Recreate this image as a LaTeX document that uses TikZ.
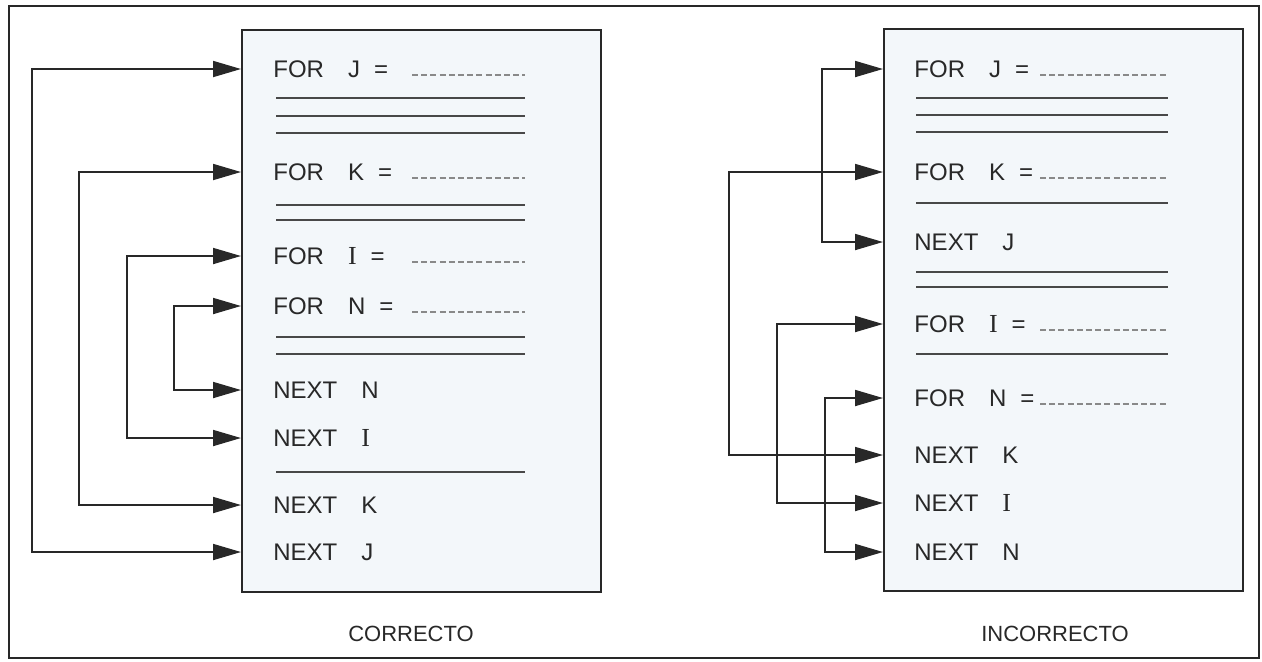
\documentclass[tikz,border=0pt]{standalone}
\usepackage{fontspec}
\setmainfont{Liberation Sans}
\newfontfamily\romI{Liberation Serif}
\usetikzlibrary{arrows.meta}
\definecolor{boxfill}{RGB}{243,247,250}
\definecolor{ink}{RGB}{40,40,40}
\newcommand{\vI}{{\romI\fontsize{13}{13}\selectfont I}}
\newcommand{\gap}{\hspace{12pt}}
\newcommand{\eqgap}{\hspace{7pt}}
\tikzset{
  codebox/.style={draw=ink, line width=1.2pt, fill=boxfill, anchor=north west,
                  inner sep=0pt, minimum width=179.5pt, minimum height=281pt},
  stmt/.style={anchor=west, inner sep=0pt, text=ink, font=\fontsize{12}{13}\selectfont},
  cline/.style={draw=ink!85, line width=0.9pt},
  blank/.style={draw=ink!55, line width=0.6pt, dash pattern=on 3pt off 1.6pt},
  lp/.style={{Triangle[length=14pt,width=8pt]}-{Triangle[length=14pt,width=8pt]},
             draw=ink, line width=0.9pt},
  verdict/.style={inner sep=0pt, text=ink, font=\fontsize{11}{13}\selectfont},
}

\begin{document}
\begin{tikzpicture}[x=0.5pt, y=-0.5pt]
  \useasboundingbox (0,0) rectangle (1262,661);
  \draw[ink, line width=1pt] (9,6) rectangle (1259,658);

  % correcto
  \node[codebox] (lbox) at (241,29) {};
  \node[stmt] (lfj) at (273,69)  {FOR\gap J\eqgap =};
  \node[stmt] (lfk) at (273,172) {FOR\gap K\eqgap =};
  \node[stmt] (lfi) at (273,256) {FOR\gap \vI\eqgap =};
  \node[stmt] (lfn) at (273,306) {FOR\gap N\eqgap =};
  \node[stmt] (lnn) at (273,390) {NEXT\gap N};
  \node[stmt] (lni) at (273,438) {NEXT\gap \vI};
  \node[stmt] (lnk) at (273,505) {NEXT\gap K};
  \node[stmt] (lnj) at (273,552) {NEXT\gap J};
  \foreach \y in {98,116,133,205,220,337,354,472}
    \draw[cline] (276,\y) -- (525,\y);
  \foreach \y in {69,172,256,306}
    \draw[blank] (412,{\y+6}) -- (525,{\y+6});
  \draw[lp] (lbox.west |- lfj) -- ++(-209,0) |- (lbox.west |- lnj);
  \draw[lp] (lbox.west |- lfk) -- ++(-162,0) |- (lbox.west |- lnk);
  \draw[lp] (lbox.west |- lfi) -- ++(-114,0) |- (lbox.west |- lni);
  \draw[lp] (lbox.west |- lfn) -- ++(-67,0)  |- (lbox.west |- lnn);
  \node[verdict] (lcap) at (411,634) {CORRECTO};

  % incorrecto
  \node[codebox] (rbox) at (883,28) {};
  \node[stmt] (rfj) at (914,69)  {FOR\gap J\eqgap =};
  \node[stmt] (rfk) at (914,172) {FOR\gap K\eqgap =};
  \node[stmt] (rnj) at (914,242) {NEXT\gap J};
  \node[stmt] (rfi) at (914,324) {FOR\gap \vI\eqgap =};
  \node[stmt] (rfn) at (914,398) {FOR\gap N\eqgap =};
  \node[stmt] (rnk) at (914,455) {NEXT\gap K};
  \node[stmt] (rni) at (914,503) {NEXT\gap \vI};
  \node[stmt] (rnn) at (914,552) {NEXT\gap N};
  \foreach \y in {98,115,132,203,272,287,354}
    \draw[cline] (916,\y) -- (1168,\y);
  \foreach \y in {69,172,324,398}
    \draw[blank] (1040,{\y+6}) -- (1166,{\y+6});
  \draw[lp] (rbox.west |- rfj) -- ++(-61,0)  |- (rbox.west |- rnj);
  \draw[lp] (rbox.west |- rfk) -- ++(-154,0) |- (rbox.west |- rnk);
  \draw[lp] (rbox.west |- rfi) -- ++(-106,0) |- (rbox.west |- rni);
  \draw[lp] (rbox.west |- rfn) -- ++(-58,0)  |- (rbox.west |- rnn);
  \node[verdict] (rcap) at (1055,634) {INCORRECTO};
\end{tikzpicture}
\end{document}
